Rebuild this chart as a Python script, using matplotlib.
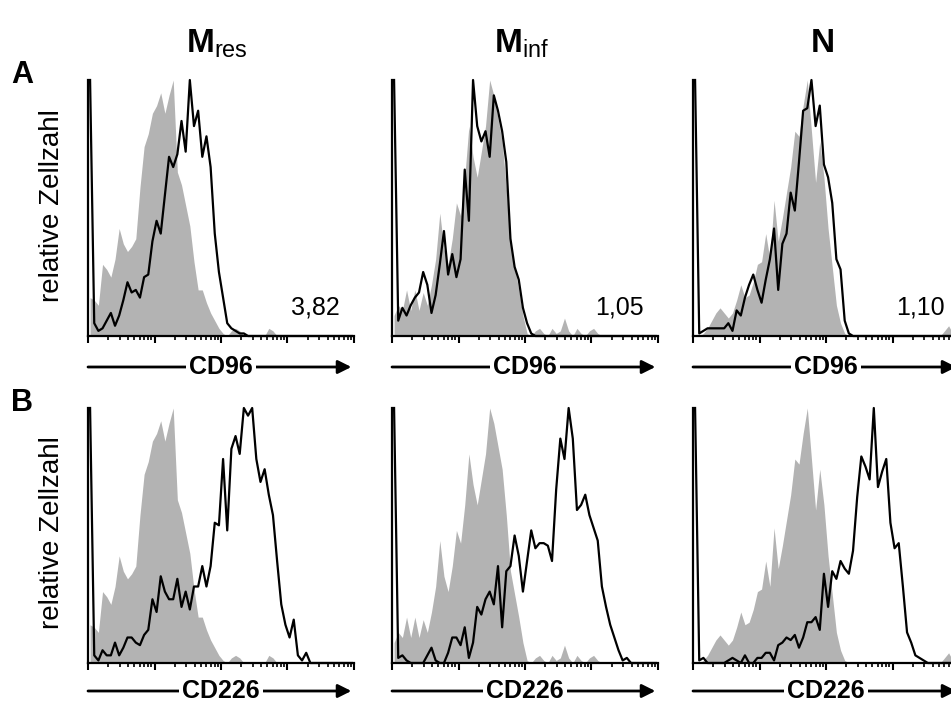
import matplotlib.pyplot as plt
import numpy as np

plt.rcParams['font.family'] = ['Liberation Sans', 'DejaVu Sans']
plt.rcParams['mathtext.fontset'] = 'custom'
plt.rcParams['mathtext.rm'] = 'Liberation Sans'
plt.rcParams['mathtext.bf'] = 'Liberation Sans:bold'

# 64 histogram channels over 4 decades (bin centres, in decades)
channels = 10 ** ((np.arange(64) + 0.5) / 16)

columns = [r'$\mathbf{M}_{\mathrm{res}}$', r'$\mathbf{M}_{\mathrm{inf}}$', r'$\mathbf{N}$']
row_letters = ['A', 'B']
markers = ['CD96', 'CD226']
ratios = [['3,82', '1,05', '1,10'], ['', '', '']]

# isotype control (grey), one per cell population
iso_mres = [15, 14, 12, 28, 26, 23, 30, 42, 36, 33,
            35, 38, 58, 74, 79, 87, 90, 95, 87, 94,
            100, 64, 59, 51, 43, 29, 18, 18, 13, 9,
            6, 3, 1, 0, 2, 3, 2, 0, 0, 0,
            0, 0, 0, 3, 2, 0, 0, 0, 0, 0,
            0, 0, 0, 0, 0, 0, 0, 0, 0, 0,
            0, 0, 0, 0]
iso_minf = [8, 12, 10, 18, 10, 18, 10, 17, 12, 20,
            30, 48, 34, 28, 38, 52, 47, 62, 82, 70,
            62, 72, 82, 100, 94, 85, 76, 58, 36, 27,
            18, 8, 1, 0, 2, 3, 1, 0, 3, 1,
            2, 7, 2, 0, 3, 1, 0, 2, 3, 1,
            0, 0, 0, 0, 0, 0, 0, 0, 0, 0,
            0, 0, 0, 0]
iso_n = [0, 0, 1, 3, 6, 9, 11, 9, 7, 9,
         14, 20, 15, 16, 21, 28, 29, 40, 30, 53,
         37, 46, 56, 66, 80, 78, 90, 100, 80, 60,
         76, 62, 42, 27, 12, 5, 1, 0, 0, 0,
         0, 0, 0, 0, 0, 0, 0, 0, 0, 0,
         0, 0, 0, 0, 0, 0, 0, 0, 0, 0,
         2, 4, 1, 0]

# specific staining (black line)
cd96_mres = [100, 5, 2, 3, 6, 9, 4, 8, 14, 21,
             17, 18, 15, 23, 24, 37, 45, 40, 55, 70,
             66, 71, 84, 72, 100, 82, 88, 70, 78, 66,
             40, 25, 15, 5, 3, 2, 1, 1, 0, 0,
             0, 0, 0, 0, 0, 0, 0, 0, 0, 0,
             0, 0, 0, 0, 0, 0, 0, 0, 0, 0,
             0, 0, 0, 0]
cd96_minf = [100, 6, 11, 8, 12, 15, 17, 25, 20, 9,
             16, 28, 41, 24, 32, 23, 30, 65, 45, 100,
             82, 76, 80, 70, 94, 88, 80, 68, 38, 27,
             22, 11, 5, 1, 0, 0, 0, 0, 0, 0,
             0, 0, 0, 0, 0, 0, 0, 0, 0, 0,
             0, 0, 0, 0, 0, 0, 0, 0, 0, 0,
             0, 0, 0, 0]
cd96_n = [100, 1, 2, 3, 3, 3, 3, 3, 5, 2,
          10, 8, 15, 20, 24, 18, 13, 22, 30, 42,
          18, 36, 40, 56, 49, 68, 88, 89, 100, 82,
          90, 67, 62, 52, 30, 26, 6, 1, 0, 0,
          0, 0, 0, 0, 0, 0, 0, 0, 0, 0,
          0, 0, 0, 0, 0, 0, 0, 0, 0, 0,
          0, 0, 0, 0]
cd226_mres = [100, 3, 1, 5, 3, 3, 8, 3, 6, 10,
              10, 8, 7, 11, 13, 25, 20, 34, 28, 25,
              25, 33, 22, 28, 21, 30, 30, 38, 30, 38,
              55, 54, 80, 52, 84, 89, 82, 100, 97, 100,
              80, 71, 76, 66, 58, 40, 23, 15, 10, 17,
              3, 1, 4, 0, 0, 0, 0, 0, 0, 0,
              0, 0, 0, 0]
cd226_minf = [100, 2, 3, 1, 0, 0, 0, 0, 3, 6,
              1, 0, 0, 4, 10, 10, 7, 14, 2, 8,
              22, 19, 25, 28, 23, 38, 14, 36, 38, 50,
              42, 28, 40, 52, 45, 47, 47, 46, 40, 68,
              88, 80, 100, 88, 60, 62, 66, 58, 53, 48,
              30, 22, 15, 10, 5, 1, 2, 0, 0, 0,
              0, 0, 0, 0]
cd226_n = [100, 1, 2, 0, 0, 0, 0, 0, 1, 2,
           1, 0, 3, 0, 0, 2, 2, 4, 4, 1,
           7, 8, 10, 9, 11, 6, 10, 16, 16, 18,
           13, 35, 22, 36, 33, 40, 37, 35, 44, 65,
           81, 77, 72, 100, 69, 75, 80, 55, 45, 47,
           30, 12, 8, 3, 2, 1, 0, 0, 0, 0,
           0, 0, 0, 0]

isotypes = [iso_mres, iso_minf, iso_n]
stains = [[cd96_mres, cd96_minf, cd96_n],
          [cd226_mres, cd226_minf, cd226_n]]

W, H = 951, 703
fig = plt.figure(figsize=(W / 100, H / 100), dpi=100)

lefts = [88, 392, 693]
tops = [80, 408]
bottoms = [336, 663]
arrow_gap = [31, 28]
pw = 266

for r in range(2):
    for c in range(3):
        ph = bottoms[r] - tops[r]
        ax = fig.add_axes([lefts[c] / W, 1 - bottoms[r] / H, pw / W, ph / H])
        ax.fill_between(channels, 0, isotypes[c], color='#b3b3b3', lw=0)
        ax.plot(channels, stains[r][c], color='k', lw=1.6, clip_on=False)
        ax.set_xscale('log')
        ax.set_xlim(1, 1e4)
        ax.set_ylim(0, 100)
        for s in ['top', 'right']:
            ax.spines[s].set_visible(False)
        for s in ['left', 'bottom']:
            ax.spines[s].set_linewidth(1.6)
        ax.set_yticks([])
        ax.tick_params(axis='x', which='major', direction='out', length=5, width=1.5)
        ax.tick_params(axis='x', which='minor', direction='out', length=3, width=1.2)
        ax.tick_params(axis='x', which='both', labelbottom=False)

        # marker arrow under the axis
        ya = -arrow_gap[r] / ph
        ax.annotate('', xy=(0.99, ya), xytext=(0, ya), xycoords='axes fraction',
                    arrowprops=dict(arrowstyle='-|>', color='k', lw=2,
                                    mutation_scale=20, shrinkA=0, shrinkB=0),
                    annotation_clip=False)
        ax.text(0.5, ya, markers[r], transform=ax.transAxes, ha='center', va='center',
                fontsize=18, fontweight='bold',
                bbox=dict(facecolor='white', edgecolor='none', pad=2))

        if ratios[r][c]:
            ax.text(252 / pw, 28 / ph, ratios[r][c], transform=ax.transAxes,
                    ha='right', va='center', fontsize=18)

    fig.text(52 / W, 1 - (tops[r] + bottoms[r]) / 2 / H + 0.004, 'relative Zellzahl',
             rotation=90, ha='center', va='center', fontsize=20)
    fig.text(11 / W, 1 - (tops[r] + 3) / H, row_letters[r], fontsize=22,
             fontweight='bold', va='baseline')

for c in range(3):
    fig.text((lefts[c] + pw / 2 - 4) / W, 1 - 52 / H, columns[c], ha='center',
             va='baseline', fontsize=24)

fig.savefig('out.png', dpi=100)
